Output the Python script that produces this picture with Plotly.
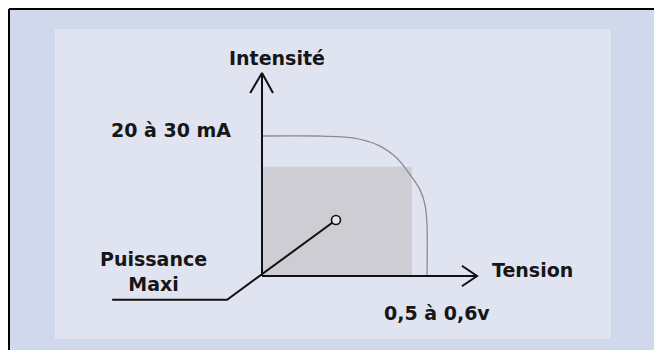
import plotly.graph_objects as go

# I-V curve of a solar cell (tension in V, intensite in mA)
curve_v = [0.0, 0.20, 0.33, 0.42, 0.49, 0.54, 0.575, 0.593, 0.60, 0.60]
curve_i = [30.0, 30.0, 29.6, 28.1, 25.3, 21.6, 18.4, 15.2, 10.9, 0.0]

# max power rectangle corner and the marker point
pmax_v = 0.545
pmax_i = 23.4
point_v = [0.269]
point_i = [12.0]

# leader line from the "Puissance Maxi" label to the point
leader_v = [-0.545, -0.127, 0.269]
leader_i = [-5.1, -5.1, 12.0]

# axes with open arrow heads
yaxis_v = [0.0, 0.0]
yaxis_i = [0.0, 43.5]
yhead_v = [-0.043, 0.0, 0.040]
yhead_i = [39.2, 43.5, 39.2]
xaxis_v = [0.0, 0.782]
xaxis_i = [0.0, 0.0]
xhead_v = [0.727, 0.782, 0.727]
xhead_i = [2.2, 0.0, -2.2]

labels = {
    "y": "Intensité",
    "isc": "20 à 30 mA",
    "x": "Tension",
    "voc": "0,5 à 0,6v",
    "pmax": "Puissance<br>Maxi",
}

W, H = 654, 350
OX, OY = 262, 276          # pixel position of the origin
PX_V, PX_I = 275.0, 4.667  # pixels per volt / per mA

fig = go.Figure()

fig.add_trace(go.Scatter(
    x=[0, pmax_v, pmax_v, 0, 0], y=[0, 0, pmax_i, pmax_i, 0],
    mode="lines", fill="toself", fillcolor="#cdcdd3",
    line=dict(width=0), hoverinfo="skip"))

fig.add_trace(go.Scatter(
    x=curve_v, y=curve_i, mode="lines",
    line=dict(color="#8c8c90", width=1.3, shape="spline", smoothing=0.8)))

black = dict(color="#111111", width=2)
for xs, ys in [(yaxis_v, yaxis_i), (yhead_v, yhead_i),
               (xaxis_v, xaxis_i), (xhead_v, xhead_i),
               (leader_v, leader_i)]:
    fig.add_trace(go.Scatter(x=xs, y=ys, mode="lines", line=black))

fig.add_trace(go.Scatter(
    x=point_v, y=point_i, mode="markers",
    marker=dict(size=9, color="#e4e4ea", line=dict(color="#111111", width=1.6))))

font = dict(family="DejaVu Sans", size=19, color="#161616")
def ann(text, x, y, xa="center", ya="middle"):
    fig.add_annotation(x=x, y=y, text="<b>%s</b>" % text, showarrow=False,
                       xanchor=xa, yanchor=ya, font=font, align="center")

ann(labels["y"], 0.055, 46.7)
ann(labels["isc"], -0.105, 31.3, xa="right")
ann(labels["x"], 0.829, 1.3, xa="left")
ann(labels["voc"], 0.636, -7.9)
ann(labels["pmax"], -0.396, 1.0)

# background panels and frame
fig.add_shape(type="rect", xref="paper", yref="paper", x0=9 / W, x1=1, y0=0, y1=1 - 9 / H,
              fillcolor="#d0d9ec", line=dict(width=0), layer="below")
fig.add_shape(type="rect", xref="paper", yref="paper", x0=55 / W, x1=611 / W,
              y0=1 - 339 / H, y1=1 - 29 / H,
              fillcolor="#e0e3f0", line=dict(width=0), layer="below")
fig.add_shape(type="line", xref="paper", yref="paper", x0=9 / W, x1=1, y0=1 - 9 / H, y1=1 - 9 / H,
              line=dict(color="#000000", width=2))
fig.add_shape(type="line", xref="paper", yref="paper", x0=9 / W, x1=9 / W, y0=0, y1=1 - 9 / H,
              line=dict(color="#000000", width=2))

fig.update_layout(
    width=W, height=H, margin=dict(l=0, r=0, t=0, b=0),
    paper_bgcolor="white", plot_bgcolor="rgba(0,0,0,0)", showlegend=False,
    xaxis=dict(range=[-OX / PX_V, (W - OX) / PX_V], visible=False, fixedrange=True),
    yaxis=dict(range=[-(H - OY) / PX_I, OY / PX_I], visible=False, fixedrange=True),
)

# the page body has a default 8px margin; drop it so the figure fills the window
fig.write_html("out.html", config={"displayModeBar": False},
               post_script="document.body.style.margin='0';")
